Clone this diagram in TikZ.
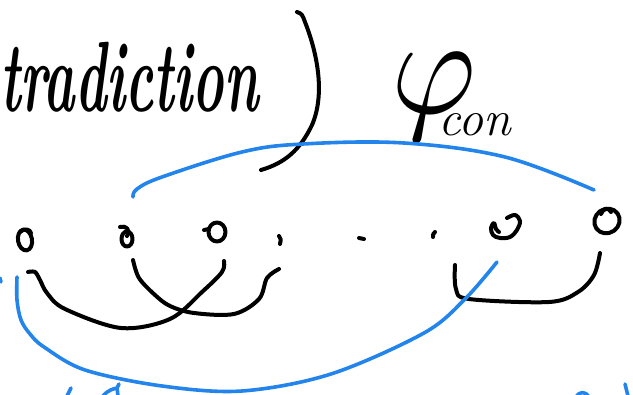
\documentclass[tikz,border=0pt]{standalone}
\definecolor{penblue}{RGB}{35,132,235}
\tikzset{
  ink/.style={draw=black, line width=4pt, line cap=round, line join=round},
  blueink/.style={draw=penblue, line width=3.6pt, line cap=round, line join=round},
  word/.style={inner sep=0pt, outer sep=0pt}
}
\begin{document}
\begin{tikzpicture}[x=1pt,y=-1pt]
\useasboundingbox (0,0) rectangle (633,395);
% handwritten words
\node[word, anchor=base west, xscale=0.53] (w1) at (0,112) {\fontsize{100}{100}\selectfont\bfseries\itshape tradiction};
\node[word, anchor=base west] (w2) at (391,114) {\scalebox{13}[14]{$\varphi$}\hspace{-38pt}\raisebox{-22pt}{\fontsize{50}{50}\selectfont\itshape con}};
% closing parenthesis
\draw[ink] (297,12) .. controls (302,14) .. (305,22) .. controls (318,55) and (325,95) .. (312,125) .. controls (300,150) and (285,163) .. (261,170);
% top blue arc
\draw[blueink] plot[smooth, tension=0.6] coordinates {(133,197) (137,189) (162,177) (242,152) (303,144) (404,143) (505,157) (594,190)};
% little o's and dots
\draw[ink] (25,240) ellipse [x radius=7, y radius=10.5, rotate=10];
\draw[ink] (20,232) .. controls (24,228) and (30,229) .. (31,233);
\draw[ink] (127,239) ellipse [x radius=5.5, y radius=7.5];
\draw[ink] (120,227) .. controls (126,225) and (131,230) .. (127,236);
\draw[ink] (217,232) ellipse [x radius=8.5, y radius=9.5];
\draw[ink] (204,230) -- (209,229);
\draw[ink] (279,236) .. controls (281,239) .. (280,244);
\draw[ink] (359,238) -- (364,239);
\draw[ink] (435,232) .. controls (433,234) .. (433,237);
\draw[ink] plot[smooth, tension=0.6] coordinates {(507,218) (515,215) (520,221) (517,230) (510,237) (500,238) (493,235) (491,228) (494,223) (496,229) (499,232)};
\draw[ink] (607,221) ellipse [x radius=13, y radius=12, rotate=35];
\draw[ink] (601,214) .. controls (603,208) and (609,207) .. (611,212);
% black arcs
\draw[ink] plot[smooth, tension=0.55] coordinates {(28,272) (35,272) (40,280) (47,293) (65,309) (121,328) (170,319) (202,292) (222,272) (224,261)};
\draw[ink] plot[smooth, tension=0.55] coordinates {(133,260) (139,278) (155,295) (170,306) (194,313) (234,314) (259,299) (267,278) (279,269)};
\draw[ink] plot[smooth, tension=0.55] coordinates {(455,265) (456,289) (469,299) (549,302) (578,292) (594,275) (600,253)};
% lower blue arc
\draw[blueink] plot[smooth, tension=0.55] coordinates {(17,277) (17,300) (21,320) (30,334) (44,347) (85,370) (162,386) (242,391) (331,374) (424,333) (465,299) (497,262)};
% fragments cut by the lower and left edges
\draw[blueink] (0,278) -- (1,282);
\draw[blueink] (67,396) -- (71,388);
\draw[blueink] (103,396) .. controls (108,390) and (113,389) .. (117,388) -- (119,384);
\draw[blueink] (117,388) -- (118,396);
\draw[blueink] (576,397) .. controls (580,391) and (585,391) .. (589,397);
\draw[blueink] (625,384) -- (628,396);
\end{tikzpicture}
\end{document}
